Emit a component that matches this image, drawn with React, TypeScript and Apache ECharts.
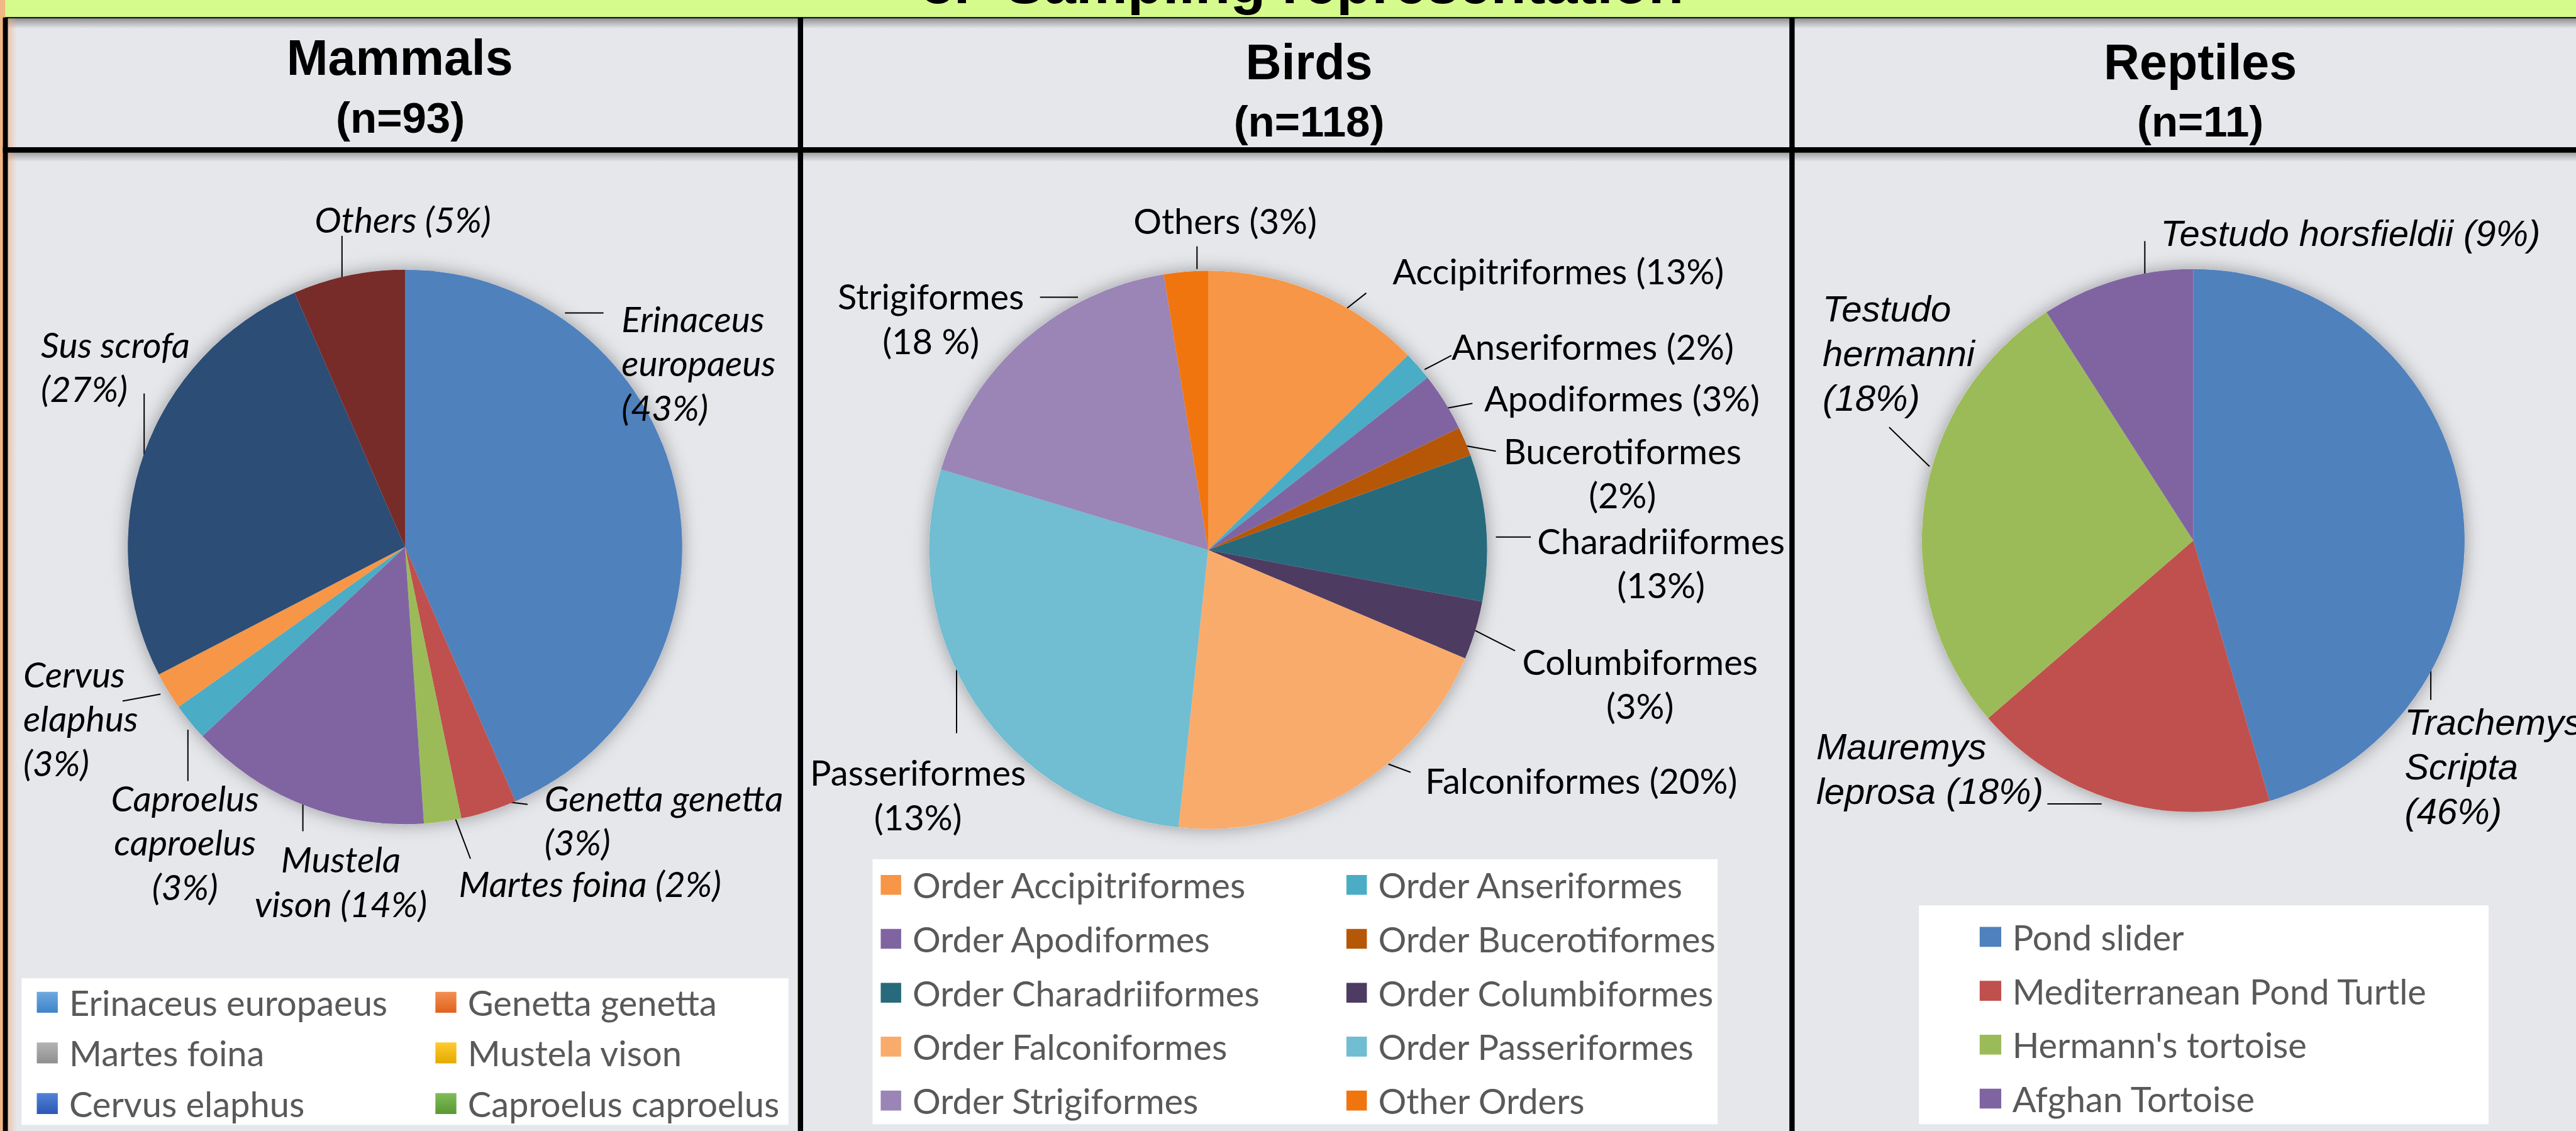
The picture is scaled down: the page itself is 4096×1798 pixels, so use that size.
import React, { useEffect, useRef } from "react";
import * as echarts from "echarts";

const W = 4096;
const H = 1798;
const K = 0.928; // reference pixels -> window pixels
const s = (v: number) => Math.round(v * K * 10) / 10;

// ---------------- DATA ----------------
const pageTitle = "3.- Sampling representation";
const groupTitles = ["Mammals", "Birds", "Reptiles"];
const groupCounts = ["(n=93)", "(n=118)", "(n=11)"];

const mammalNames = [
  "Erinaceus europaeus",
  "Genetta genetta",
  "Martes foina",
  "Mustela vison",
  "Caproelus caproelus",
  "Cervus elaphus",
  "Sus scrofa",
  "Others",
];
const mammalValues = [40, 3, 2, 13, 2, 2, 24, 6];
const mammalLabels = [
  "Erinaceus\neuropaeus\n(43%)",
  "Genetta genetta\n(3%)",
  "Martes foina (2%)",
  "Mustela\nvison (14%)",
  "Caproelus\ncaproelus\n(3%)",
  "Cervus\nelaphus\n(3%)",
  "Sus scrofa\n(27%)",
  "Others (5%)",
];
const mammalColors = ["#4f81bd", "#c0504d", "#9bbb59", "#8064a2", "#4bacc6", "#f79646", "#2c4d75", "#772c2a"];
const mammalLegendCol1 = ["Erinaceus europaeus", "Martes foina", "Cervus elaphus"];
const mammalLegendCol2 = ["Genetta genetta", "Mustela vison", "Caproelus caproelus"];
const mammalLegendCol1Colors = [["#6fa9de", "#3f83c9"], ["#b4b4b4", "#8e8e8e"], ["#5283d8", "#2b58b3"]];
const mammalLegendCol2Colors = [["#f28f52", "#e0621c"], ["#ffcb2e", "#e3aa00"], ["#80bd5a", "#5a9833"]];

const birdNames = [
  "Order Accipitriformes",
  "Order Anseriformes",
  "Order Apodiformes",
  "Order Bucerotiformes",
  "Order Charadriiformes",
  "Order Columbiformes",
  "Order Falconiformes",
  "Order Passeriformes",
  "Order Strigiformes",
  "Other Orders",
];
const birdValues = [15, 2, 4, 2, 10, 4, 24, 33, 21, 3];
const birdLabels = [
  "Accipitriformes (13%)",
  "Anseriformes (2%)",
  "Apodiformes (3%)",
  "Bucerotiformes\n(2%)",
  "Charadriiformes\n(13%)",
  "Columbiformes\n(3%)",
  "Falconiformes (20%)",
  "Passeriformes\n(13%)",
  "Strigiformes\n(18 %)",
  "Others (3%)",
];
const birdColors = ["#f79646", "#4bacc6", "#8064a2", "#b65708", "#276a7c", "#4d3b62", "#f9ab6b", "#71bdd2", "#9b84b6", "#f0750f"];

const reptileNames = ["Pond slider", "Mediterranean Pond Turtle", "Hermann's tortoise", "Afghan Tortoise"];
const reptileValues = [5, 2, 3, 1];
const reptileLabels = ["Trachemys\nScripta\n(46%)", "Mauremys\nleprosa (18%)", "Testudo\nhermanni\n(18%)", "Testudo horsfieldii (9%)"];
const reptileColors = ["#4f81bd", "#c0504d", "#9bbb59", "#8064a2"];

// ---------------- LAYOUT (reference pixels) ----------------
type Lbl = { x: number; y: number; a: string; line: number[] };
const mammalLabelLayout: Lbl[] = [
  { x: 1065, y: 545, a: "left", line: [968, 536, 1034, 536] },
  { x: 933, y: 1366, a: "left", line: [856, 1372, 904, 1378] },
  { x: 786, y: 1513, a: "left", line: [776, 1391, 806, 1471] },
  { x: 584, y: 1471, a: "center", line: [519, 1372, 519, 1424] },
  { x: 317, y: 1366, a: "center", line: [322, 1250, 322, 1338] },
  { x: 40, y: 1154, a: "left", line: [275, 1189, 210, 1201] },
  { x: 70, y: 589, a: "left", line: [247, 674, 247, 779] },
  { x: 539, y: 375, a: "left", line: [586, 404, 586, 493] },
];
const birdLabelLayout: Lbl[] = [
  { x: 2386, y: 464, a: "left", line: [2341, 502, 2308, 528] },
  { x: 2487, y: 593, a: "left", line: [2487, 609, 2441, 633] },
  { x: 2543, y: 682, a: "left", line: [2523, 691, 2480, 699] },
  { x: 2780, y: 772, a: "center", line: [2563, 773, 2513, 764] },
  { x: 2846, y: 926, a: "center", line: [2623, 920, 2563, 920] },
  { x: 2810, y: 1133, a: "center", line: [2596, 1115, 2527, 1080] },
  { x: 2442, y: 1337, a: "left", line: [2417, 1323, 2379, 1309] },
  { x: 1573, y: 1323, a: "center", line: [1639, 1256, 1639, 1147] },
  { x: 1595, y: 507, a: "center", line: [1782, 509, 1847, 509] },
  { x: 1942, y: 378, a: "left", line: [2051, 422, 2051, 461] },
];
const reptileLabelLayout: Lbl[] = [
  { x: 4120, y: 1237, a: "left", line: [4165, 1199, 4165, 1131] },
  { x: 3112, y: 1279, a: "left", line: [3508, 1377, 3601, 1377] },
  { x: 3123, y: 529, a: "left", line: [3237, 732, 3306, 799] },
  { x: 3702, y: 399, a: "left", line: [3675, 413, 3675, 483] },
];

const BG = "#e6e7eb";

function pieSeries(
  id: string,
  names: string[],
  values: number[],
  colors: string[],
  labels: string[],
  layout: Lbl[],
  cx: number,
  cy: number,
  r: number,
  font: { family: string; style: string; size: number; lh: number }
) {
  return {
    type: "pie",
    id,
    center: [s(cx), s(cy)],
    radius: s(r),
    startAngle: 90,
    clockwise: true,
    avoidLabelOverlap: false,
    silent: true,
    z: 2,
    data: names.map((n, i) => ({ name: n, value: values[i], itemStyle: { color: colors[i] } })),
    itemStyle: { borderWidth: 0 },
    label: {
      show: true,
      position: "outside",
      formatter: (p: any) => labels[p.dataIndex],
      color: "#000",
      fontFamily: font.family,
      fontStyle: font.style,
      fontSize: font.size,
      lineHeight: font.lh,
      width: 3000,
      overflow: "none",
    },
    labelLine: { show: true, length: 5, length2: 5, smooth: false, lineStyle: { color: "#000", width: 2 } },
    labelLayout: (p: any) => {
      const L = layout[p.dataIndex];
      return {
        x: s(L.x),
        y: s(L.y) - font.lh / 2,
        align: L.a,
        verticalAlign: "top",
        labelLinePoints: [
          [s(L.line[0]), s(L.line[1])],
          [s(L.line[2]), s(L.line[3])],
        ],
      };
    },
  };
}

function columnLegend(names: string[], colors: any[], x: number, yc: number, pitch: number, iw: number, ih: number, gap: number) {
  const rowH = 60;
  return {
    orient: "vertical",
    left: s(x),
    top: s(yc) - rowH / 2,
    padding: 0,
    itemGap: s(pitch) - rowH,
    itemWidth: s(iw),
    itemHeight: s(ih),
    icon: "rect",
    selectedMode: false,
    z: 6,
    textStyle: {
      fontFamily: "Lato",
      fontSize: 56,
      color: "#595959",
      lineHeight: rowH,
      padding: [0, 0, 0, s(gap) - 5],
    },
    data: names.map((n, i) => ({ name: n, itemStyle: { color: colors[i], borderWidth: 0 } })),
  };
}

const vgrad = (stops: [number, string][]) =>
  new echarts.graphic.LinearGradient(0, 0, 0, 1, stops.map(([o, c]) => ({ offset: o, color: c })));
const hgrad = (stops: [number, string][]) =>
  new echarts.graphic.LinearGradient(0, 0, 1, 0, stops.map(([o, c]) => ({ offset: o, color: c })));

const rect = (x: number, y: number, w: number, h: number, fill: any, z: number) => ({
  type: "rect",
  shape: { x, y, width: w, height: h },
  style: { fill },
  z,
  silent: true,
});

const text = (t: string, x: number, y: number, size: number, z = 7) => ({
  type: "text",
  z,
  silent: true,
  style: {
    text: t,
    x,
    y,
    fill: "#000",
    fontSize: size,
    fontWeight: "bold",
    fontFamily: "Liberation Sans, Arial, sans-serif",
    align: "center",
    verticalAlign: "middle",
    textAlign: "center",
    textVerticalAlign: "middle",
  },
});

const shadowCircle = (cx: number, cy: number, r: number) => ({
  type: "circle",
  z: 1,
  silent: true,
  shape: { cx: s(cx), cy: s(cy), r: s(r) },
  style: { fill: BG, shadowBlur: 28, shadowColor: "rgba(0,0,0,0.35)" },
});

function buildOption() {
  const titlePos = [
    [685, 99, 686, 202],
    [2243, 106, 2243, 208],
    [3770, 106, 3770, 208],
  ];
  const elements: any[] = [
    rect(0, 0, W, H, BG, 0),
    // left peach strip & green banner
    rect(0, 0, s(9), H, "#f0b784", 5),
    rect(s(9), 0, W, s(30), "#d4fb8c", 5),
    { ...text(pageTitle, s(2232), 5 - 0.3465 * 92, 92, 6) },
    rect(s(13), s(31), W, s(18), vgrad([[0, "rgba(70,70,70,0.55)"], [1, "rgba(70,70,70,0)"]]), 4),
    rect(s(9), s(29), W, s(2.5), "#1a1a1a", 6),
    // header separator
    rect(s(13), s(261), W, s(16), vgrad([[0, "rgba(70,70,70,0.45)"], [1, "rgba(70,70,70,0)"]]), 4),
    rect(s(5), s(252), W, s(9.5), "#000", 6),
    // left border and glow
    rect(s(13), s(30), s(16), H, hgrad([[0, "rgba(235,170,120,0.55)"], [1, "rgba(235,170,120,0)"]]), 4),
    rect(s(5), s(30), s(8.5), H, "#000", 6),
    // dividers
    rect(s(1367), s(30), s(9), H, "#000", 6),
    rect(s(3066), s(30), s(9), H, "#000", 6),
    // pie halos
    shadowCircle(694, 937, 475),
    shadowCircle(2070, 942, 478),
    shadowCircle(3758, 926, 465),
    // legend boxes
    rect(s(37), s(1676), s(1314), s(251), "#ffffff", 1),
    rect(s(1495), s(1472), s(1448), s(454), "#ffffff", 1),
    rect(s(3288), s(1551), s(976), s(375), "#ffffff", 1),
  ];
  groupTitles.forEach((t, i) => {
    elements.push(text(t, s(titlePos[i][0]), s(titlePos[i][1]), 79));
    elements.push(text(groupCounts[i], s(titlePos[i][2]), s(titlePos[i][3]), 69));
  });

  const mg = (pairs: string[][]) => pairs.map(([a, b]) => vgrad([[0, a], [1, b]]));

  return {
    animation: false,
    backgroundColor: BG,
    graphic: { elements },
    legend: [
      columnLegend(mammalLegendCol1, mg(mammalLegendCol1Colors), 63, 1717, 86.7, 36, 36, 19.5),
      columnLegend(mammalLegendCol2, mg(mammalLegendCol2Colors), 746, 1717, 86.7, 36, 36, 19.5),
      columnLegend(
        birdNames.filter((_, i) => i % 2 === 0),
        birdColors.filter((_, i) => i % 2 === 0),
        1509, 1516, 92.4, 35, 34, 19.5
      ),
      columnLegend(
        birdNames.filter((_, i) => i % 2 === 1),
        birdColors.filter((_, i) => i % 2 === 1),
        2307, 1516, 92.4, 35, 34, 19.5
      ),
      columnLegend(reptileNames, reptileColors, 3392, 1605, 92.3, 37, 34, 19),
    ],
    series: [
      pieSeries("mammals", mammalNames, mammalValues, mammalColors, mammalLabels, mammalLabelLayout, 694, 937, 475, {
        family: "Lato",
        style: "italic",
        size: 57,
        lh: s(76),
      }),
      pieSeries("birds", birdNames, birdValues, birdColors, birdLabels, birdLabelLayout, 2070, 942, 478, {
        family: "Lato",
        style: "normal",
        size: 56,
        lh: s(76),
      }),
      pieSeries("reptiles", reptileNames, reptileValues, reptileColors, reptileLabels, reptileLabelLayout, 3758, 926, 465, {
        family: "Liberation Sans, Arial, sans-serif",
        style: "italic",
        size: 58,
        lh: s(76.5),
      }),
    ],
  };
}

export default function App() {
  const ref = useRef<HTMLDivElement>(null);
  useEffect(() => {
    if (!ref.current) return;
    const chart = echarts.init(ref.current, null, { renderer: "svg", width: W, height: H });
    chart.setOption(buildOption() as any);
    return () => chart.dispose();
  }, []);
  return <div ref={ref} style={{ position: "fixed", left: 0, top: 0, width: W, height: H }} />;
}
